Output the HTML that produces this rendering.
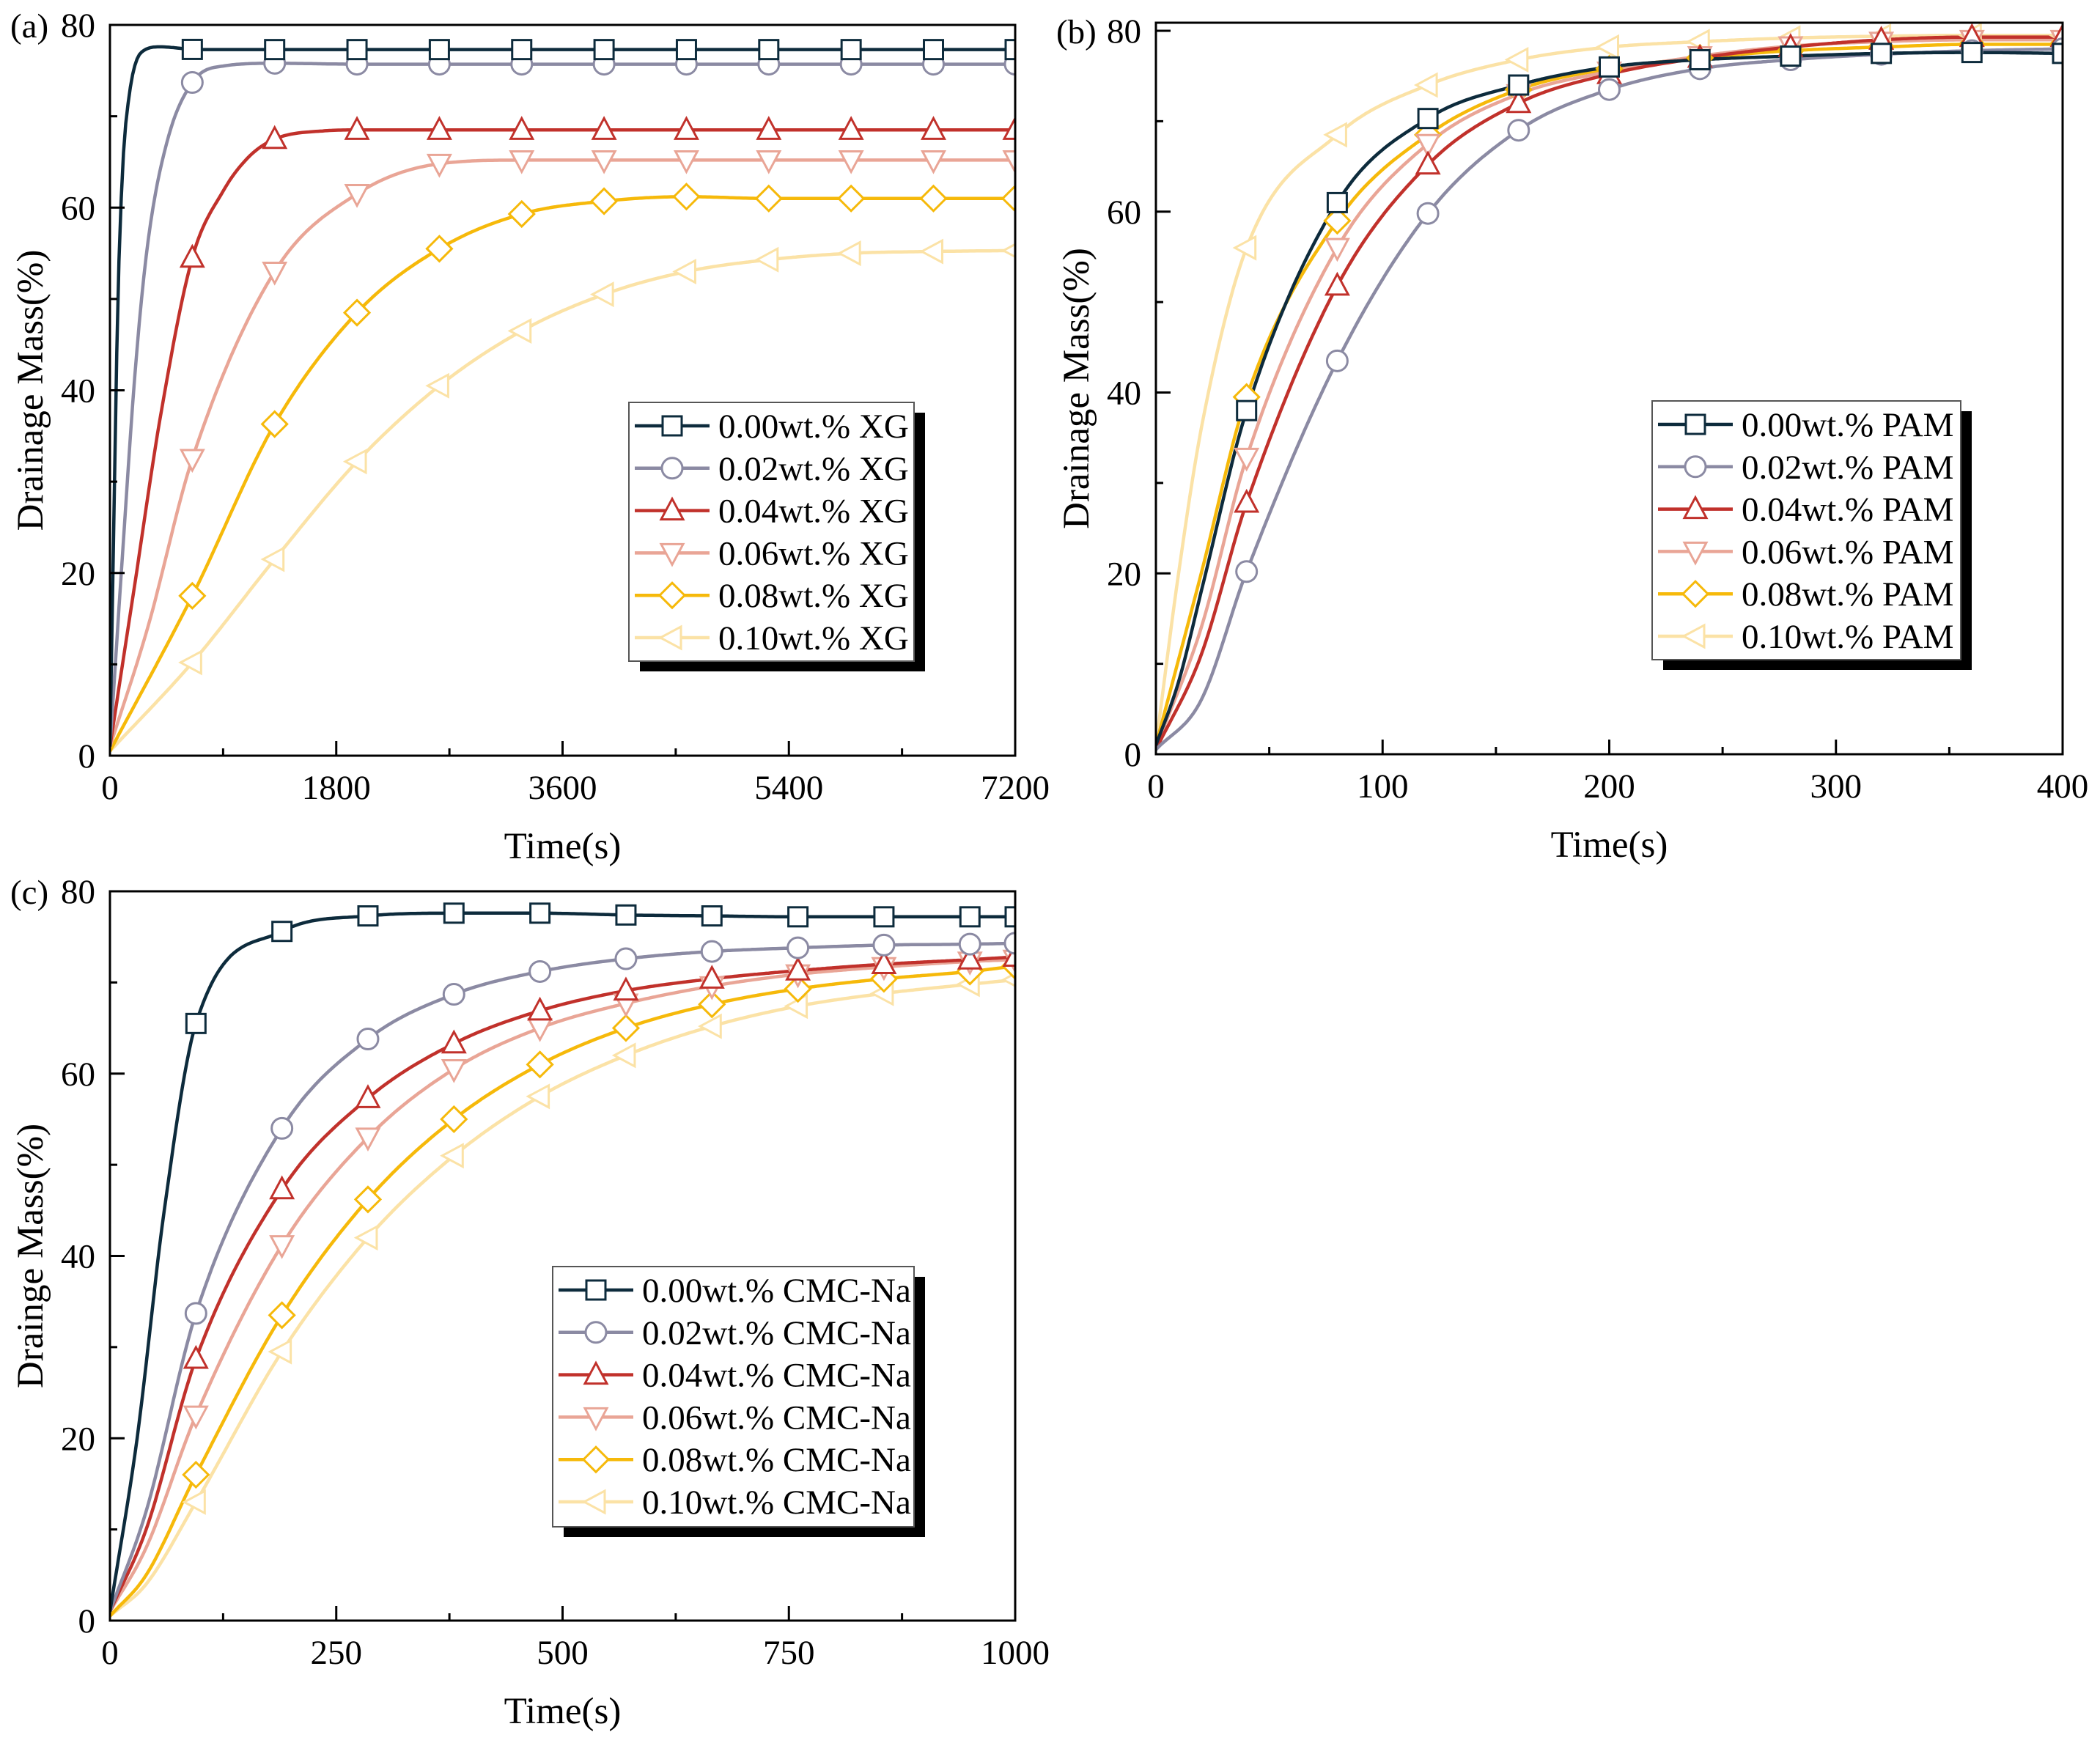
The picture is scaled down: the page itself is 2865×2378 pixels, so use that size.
<!DOCTYPE html>
<html><head><meta charset="utf-8"><style>
html,body{margin:0;padding:0;background:#fff;}
svg{display:block;font-family:"Liberation Serif",serif;}
</style></head><body>
<svg id="fig" width="2865" height="2378" viewBox="0 0 2865 2378" xmlns="http://www.w3.org/2000/svg"></svg>
<script>
// ---------- data ----------
const colors = ["#0d2b3c","#8b8aa3","#c1312b","#e9a596","#f6b90a","#fbe2a6"];
const markerTypes = ["square","circle","up","down","diamond","left"];

// Panel (a) XG
const aLabels = ["0.00wt.% XG","0.02wt.% XG","0.04wt.% XG","0.06wt.% XG","0.08wt.% XG","0.10wt.% XG"];
const aT0 = [0,30,60,100,150,250,400,700,1500,4000,7200];
const aY0 = [1,25,48,64,72,77,77.6,77.3,77.3,77.3,77.3];
const aT1 = [0,100,200,300,450,655,900,1310,2000,4000,7200];
const aY1 = [1,22,42,56,67,73.7,75.5,75.8,75.7,75.7,75.7];
const aT2 = [0,200,400,655,900,1100,1310,1700,1965,4000,7200];
const aY2 = [1,19,37,54.5,61.8,65.5,67.5,68.4,68.5,68.5,68.5];
const aT3 = [0,300,655,1310,1965,2620,3275,5000,7200];
const aY3 = [1,14,32.5,53,61.5,64.8,65.2,65.2,65.2];
const aT4 = [0,655,1310,1965,2620,3275,3930,4585,5240,6500,7200];
const aY4 = [0.5,17.5,36.3,48.5,55.5,59.3,60.7,61.2,61,61,61];
const aT5 = [0,655,1310,1965,2620,3275,3930,4585,5240,5895,6550,7200];
const aY5 = [0.5,10.2,21.5,32.2,40.5,46.5,50.5,53,54.3,55,55.2,55.3];
const aMarkX = [655,1310,1965,2620,3275,3930,4585,5240,5895,6550,7200];
const aXTicks = [0,1800,3600,5400,7200];

// Panel (b) PAM
const bLabels = ["0.00wt.% PAM","0.02wt.% PAM","0.04wt.% PAM","0.06wt.% PAM","0.08wt.% PAM","0.10wt.% PAM"];
const bT0 = [0,10,20,40,80,120,160,200,240,280,320,360,400];
const bY0 = [1,8,18,38,61,70.3,74,76,76.8,77.2,77.5,77.6,77.5];
const bT1 = [0,20,40,80,120,160,200,240,280,320,360,400];
const bY1 = [0.5,6,20.2,43.5,59.8,69,73.5,75.8,76.8,77.4,77.8,78];
const bT2 = [0,20,40,80,120,160,200,240,280,320,360,400];
const bY2 = [0.5,11,27.8,51.8,65.2,72,75.2,77,78.2,79,79.3,79.3];
const bT3 = [0,20,40,80,120,160,200,240,280,320,360,400];
const bY3 = [0.8,14,32.8,56,67.5,73,75.5,77.2,78.3,78.8,79,79];
const bT4 = [0,20,40,80,120,160,200,240,280,320,360,400];
const bY4 = [1,20,39.5,59,68.5,73.5,75.8,77,77.8,78.2,78.5,78.5];
const bT5 = [0,10,20,40,80,120,160,200,240,280,320,360,400];
const bY5 = [1,20,36,56,68.5,74,76.8,78.2,78.8,79.2,79.4,79.5,79.5];
const bMarkX = [40,80,120,160,200,240,280,320,360,400];
const bXTicks = [0,100,200,300,400];

// Panel (c) CMC-Na
const cLabels = ["0.00wt.% CMC-Na","0.02wt.% CMC-Na","0.04wt.% CMC-Na","0.06wt.% CMC-Na","0.08wt.% CMC-Na","0.10wt.% CMC-Na"];
const cT = [0,40,95,190,285,380,475,570,665,760,855,950,1000];
const cT0 = [0,30,60,95,190,285,380,475,570,665,760,855,950,1000];
const cY0 = [1,20,45,65.5,75.6,77.3,77.6,77.6,77.4,77.3,77.2,77.2,77.2,77.2];
const cY1 = [1,12,33.7,54,63.8,68.7,71.2,72.6,73.4,73.8,74.1,74.2,74.3];
const cY2 = [1,10,28.7,47.3,57.3,63.3,66.9,69.1,70.4,71.3,72,72.5,72.8];
const cY3 = [1,8,22.5,41.2,53,60.5,65,67.7,69.6,70.9,71.7,72.3,72.5];
const cY4 = [0.5,5,16,33.5,46.2,55,61,65,67.6,69.3,70.4,71.2,71.8];
const cY5 = [0.5,4,13,29.5,42,51,57.5,62,65.2,67.4,68.8,69.8,70.3];
const cMarkX = [95,190,285,380,475,570,665,760,855,950,1000];
const cXTicks = [0,250,500,750,1000];

const yTicks = [0,20,40,60,80];

// ---------- helpers ----------
const NS = "http://www.w3.org/2000/svg";
const svg = document.getElementById("fig");
function mk(tag, attrs, parent){
  const e = document.createElementNS(NS, tag);
  for (const k in attrs) e.setAttribute(k, attrs[k]);
  (parent||svg).appendChild(e);
  return e;
}
function monotone(xs, ys){
  const n = xs.length, d=[], m=new Array(n);
  for(let i=0;i<n-1;i++) d.push((ys[i+1]-ys[i])/(xs[i+1]-xs[i]));
  m[0]=d[0]; m[n-1]=d[n-2];
  for(let i=1;i<n-1;i++){ m[i] = (d[i-1]*d[i]<=0)?0:(d[i-1]+d[i])/2; }
  for(let i=0;i<n-1;i++){
    if(d[i]===0){m[i]=0;m[i+1]=0;continue;}
    const a=m[i]/d[i], b=m[i+1]/d[i], s=a*a+b*b;
    if(s>9){const t=3/Math.sqrt(s); m[i]=t*a*d[i]; m[i+1]=t*b*d[i];}
  }
  return function(x){
    let i=0; while(i<n-2 && x>xs[i+1]) i++;
    const h=xs[i+1]-xs[i], t=(x-xs[i])/h;
    const h00=2*t*t*t-3*t*t+1,h10=t*t*t-2*t*t+t,h01=-2*t*t*t+3*t*t,h11=t*t*t-t*t;
    return h00*ys[i]+h10*h*m[i]+h01*ys[i+1]+h11*h*m[i+1];
  };
}
function marker(g, type, cx, cy, color){
  const r=14, sw=3;
  let el;
  if(type==="square") el=mk("rect",{x:cx-r+1,y:cy-r+1,width:2*r-2,height:2*r-2,fill:"#fff",stroke:color,"stroke-width":sw},g);
  else if(type==="circle") el=mk("circle",{cx:cx,cy:cy,r:r,fill:"#fff",stroke:color,"stroke-width":sw},g);
  else {
    let p;
    if(type==="up") p=[[cx,cy-r-2],[cx+r+1,cy+r-2],[cx-r-1,cy+r-2]];
    if(type==="down") p=[[cx,cy+r+2],[cx+r+1,cy-r+2],[cx-r-1,cy-r+2]];
    if(type==="diamond") p=[[cx,cy-r-3],[cx+r+3,cy],[cx,cy+r+3],[cx-r-3,cy]];
    if(type==="left") p=[[cx-r-2,cy],[cx+r-2,cy-r-1],[cx+r-2,cy+r+1]];
    el=mk("polygon",{points:p.map(q=>q.join(",")).join(" "),fill:"#fff",stroke:color,"stroke-width":sw},g);
  }
  
  
  return el;
}

function panel(o){
  const g = mk("g",{});
  
  
  const X = v => o.x0 + (v-o.xmin)/(o.xmax-o.xmin)*(o.x1-o.x0);
  const Y = v => o.yb - v/80*(o.yb-o.y80);
  const cp = mk("clipPath",{id:"clip"+o.id},g);
  mk("rect",{x:o.x0,y:o.yt,width:o.x1-o.x0,height:o.yb-o.yt},cp);
  const sg = mk("g",{"clip-path":"url(#clip"+o.id+")"},g);
  
  
  for(let s=5;s>=0;s--){
    const f = monotone(o.ts[s], o.ys[s]);
    let d="";
    const N=400;
    for(let k=0;k<=N;k++){
      const t = o.xmin + (o.xmax-o.xmin)*k/N;
      d += (k?"L":"M")+X(t).toFixed(1)+","+Y(f(t)).toFixed(1);
    }
    const p = mk("path",{d:d,fill:"none",stroke:colors[s],"stroke-width":4.5,"stroke-linejoin":"round"},sg);
    
    
  }
  for(let s=5;s>=0;s--){
    const f = monotone(o.ts[s], o.ys[s]);
    o.markX.forEach(t=>marker(sg, markerTypes[s], X(t), Y(f(t)), colors[s]));
  }
  const fr = mk("rect",{x:o.x0,y:o.yt,width:o.x1-o.x0,height:o.yb-o.yt,fill:"none",stroke:"#000","stroke-width":3},g);
  
  
  for(let i=0;i<o.xticks.length;i++){
    const v=o.xticks[i], px=X(v);
    mk("line",{x1:px,x2:px,y1:o.yb,y2:o.yb-20,stroke:"#000","stroke-width":3},g);
    if(i<o.xticks.length-1){
      const mv=(v+o.xticks[i+1])/2, mx=X(mv);
      mk("line",{x1:mx,x2:mx,y1:o.yb,y2:o.yb-10,stroke:"#000","stroke-width":3},g);
    }
    const t=mk("text",{x:px,y:o.yb+59,"font-size":47,"text-anchor":"middle"},g);
    t.textContent=v;
    
    
  }
  for(let i=0;i<yTicks.length;i++){
    const v=yTicks[i], py=Y(v);
    mk("line",{x1:o.x0,x2:o.x0+20,y1:py,y2:py,stroke:"#000","stroke-width":3},g);
    if(i<yTicks.length-1){
      const my=Y(v+10);
      mk("line",{x1:o.x0,x2:o.x0+10,y1:my,y2:my,stroke:"#000","stroke-width":3},g);
    }
    const t=mk("text",{x:o.x0-20,y:py+16,"font-size":47,"text-anchor":"end"},g);
    t.textContent=v;
    
    
  }
  const pl=mk("text",{x:o.x0-136,y:o.y80+17,"font-size":47},g);
  pl.textContent="("+o.id+")";
  
  
  const xt=mk("text",{x:(o.x0+o.x1)/2,y:o.yb+140,"font-size":51,"text-anchor":"middle"},g);
  xt.textContent="Time(s)";
  
  
  const cy=(o.yt+o.yb)/2;
  const yt=mk("text",{x:0,y:0,"font-size":51,"text-anchor":"middle",transform:"translate("+(o.x0-92)+","+cy+") rotate(-90)"},g);
  yt.textContent=o.ytitle;
  
  
  const L=o.leg;
  const lg=mk("g",{},g);
  
  
  mk("rect",{x:L.x+15,y:L.y+14,width:L.w,height:L.h,fill:"#000"},lg);
  mk("rect",{x:L.x,y:L.y,width:L.w,height:L.h,fill:"#fff",stroke:"#555","stroke-width":2},lg);
  for(let s=0;s<6;s++){
    const ry=L.y+32+s*57.8;
    const e=mk("g",{},lg);
    
    
    mk("line",{x1:L.x+8,x2:L.x+110,y1:ry,y2:ry,stroke:colors[s],"stroke-width":4.5},e);
    marker(e, markerTypes[s], L.x+59, ry, colors[s]);
    const t=mk("text",{x:L.x+122,y:ry+16,"font-size":47},e);
    t.textContent=o.labels[s];
  }
}

panel({id:"a",x0:150,x1:1385,yt:34,yb:1031,y80:34,xmin:0,xmax:7200,
  ts:[aT0,aT1,aT2,aT3,aT4,aT5], ys:[aY0,aY1,aY2,aY3,aY4,aY5], markX:aMarkX, xticks:aXTicks,
  labels:aLabels, ytitle:"Drainage Mass(%)", leg:{x:858,y:549,w:389,h:353}});
panel({id:"b",x0:1577,x1:2814,yt:31,yb:1029,y80:42,xmin:0,xmax:400,
  ts:[bT0,bT1,bT2,bT3,bT4,bT5], ys:[bY0,bY1,bY2,bY3,bY4,bY5], markX:bMarkX, xticks:bXTicks,
  labels:bLabels, ytitle:"Drainage Mass(%)", leg:{x:2254,y:547,w:421,h:353}});
panel({id:"c",x0:150,x1:1385,yt:1216,yb:2211,y80:1216,xmin:0,xmax:1000,
  ts:[cT0,cT,cT,cT,cT,cT], ys:[cY0,cY1,cY2,cY3,cY4,cY5], markX:cMarkX, xticks:cXTicks,
  labels:cLabels, ytitle:"Drainge Mass(%)", leg:{x:754,y:1728,w:493,h:355}});
</script>
</body></html>
